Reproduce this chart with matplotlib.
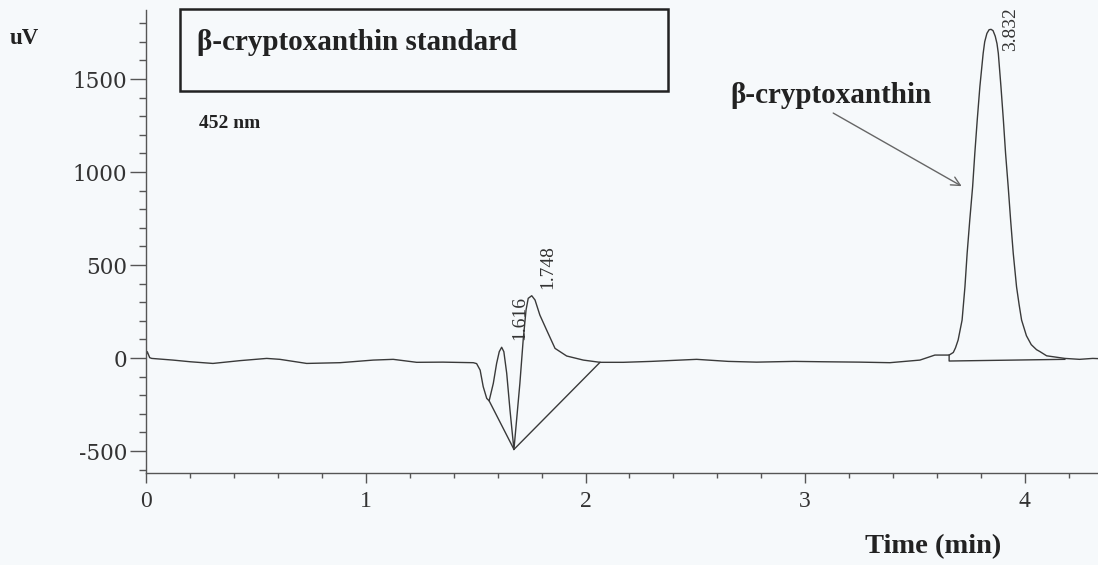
import matplotlib
matplotlib.use('Agg')
import matplotlib.pyplot as plt
from matplotlib.ticker import MultipleLocator
from matplotlib.patches import Rectangle

# ---------------- data ----------------
time_min = [0.000, 0.004, 0.015, 0.024, 0.121, 0.200, 0.303, 0.426, 0.548, 0.608,
            0.730, 0.882, 1.033, 1.124, 1.231, 1.350, 1.489, 1.504, 1.520, 1.534,
            1.550, 1.561, 1.580, 1.595, 1.607, 1.618, 1.628, 1.641, 1.656, 1.668,
            1.674, 1.686, 1.701, 1.716, 1.729, 1.739, 1.755, 1.770, 1.792, 1.823,
            1.861, 1.914, 1.990, 2.066, 2.172, 2.300, 2.506, 2.650, 2.779, 2.950,
            3.082, 3.250, 3.386, 3.523, 3.591, 3.656, 3.675, 3.685, 3.697, 3.715,
            3.728, 3.738, 3.750, 3.763, 3.773, 3.784, 3.796, 3.811, 3.818, 3.828,
            3.838, 3.847, 3.856, 3.866, 3.874, 3.880, 3.892, 3.903, 3.913, 3.925,
            3.936, 3.948, 3.963, 3.975, 3.986, 4.008, 4.030, 4.054, 4.069, 4.100,
            4.183, 4.250, 4.310, 4.334]
signal_uV = [20, 34, 2, -2, -11, -20, -29, -14, -2, -7,
             -29, -25, -11, -7, -23, -22, -25, -30, -65, -154,
             -217, -230, -136, -29, 34, 58, 34, -82, -280, -423,
             -491, -333, -136, 97, 258, 321, 335, 312, 231, 150,
             52, 11, -11, -23, -23, -18, -7, -18, -22, -18,
             -20, -22, -25, -11, 16, 16, 30, 55, 97, 204,
             383, 563, 742, 921, 1101, 1280, 1459, 1638, 1700, 1745,
             1765, 1767, 1760, 1730, 1690, 1638, 1459, 1280, 1101, 921,
             742, 563, 383, 285, 204, 120, 72, 45, 35, 12,
             -2, -7, -2, -3]

# integration baselines drawn by the data system
baseline_1_t = [1.561, 1.674]
baseline_1_v = [-230, -491]
baseline_2_t = [1.674, 2.066]
baseline_2_v = [-491, -23]
baseline_3_t = [3.656, 3.656, 4.183]
baseline_3_v = [16, -16, -7]

peak_labels = ['1.616', '1.748', '3.832']

x_ticks = [0, 1, 2, 3, 4]
y_ticks = [-500, 0, 500, 1000, 1500]

# ---------------- drawing ----------------
plt.rcParams['axes.unicode_minus'] = False
W, H = 1098, 565
fig = plt.figure(figsize=(W / 100, H / 100), dpi=100, facecolor='#f6f9fb')
ax = fig.add_axes([146.4 / W, 1 - 473 / H, 1 - 146.4 / W, (473 - 10) / H])
ax.set_facecolor('none')

line_col = '#3a3a3a'
ax.plot(time_min, signal_uV, color=line_col, lw=1.0)
for bt, bv in [(baseline_1_t, baseline_1_v), (baseline_2_t, baseline_2_v),
               (baseline_3_t, baseline_3_v)]:
    ax.plot(bt, bv, color=line_col, lw=1.0)

ax.set_xlim(0, 4.334)
ax.set_ylim(-618, 1871)
for s in ['top', 'right']:
    ax.spines[s].set_visible(False)
for s in ['left', 'bottom']:
    ax.spines[s].set_color('#555555')
    ax.spines[s].set_linewidth(1.0)

ax.set_xticks(x_ticks)
ax.set_xticklabels([str(v) for v in x_ticks])
ax.xaxis.set_minor_locator(MultipleLocator(0.2))
ax.set_yticks(y_ticks)
ax.set_yticklabels([str(v) for v in y_ticks])
ax.yaxis.set_minor_locator(MultipleLocator(100))

ax.tick_params(axis='x', which='major', length=7.2, width=1.0, color='#555555',
               pad=5.5, labelsize=17, labelcolor='#333333')
ax.tick_params(axis='x', which='minor', length=3.6, width=1.0, color='#555555')
ax.tick_params(axis='y', which='major', length=11.5, width=1.0, color='#555555',
               pad=2.4, labelsize=15.5, labelcolor='#333333')
ax.tick_params(axis='y', which='minor', length=5.0, width=1.0, color='#555555')
for lab in ax.get_xticklabels():
    lab.set_family('Liberation Serif')
for lab in ax.get_yticklabels():
    lab.set_family('DejaVu Serif')

# peak retention-time labels
label_xy = [(1.702, 95), (1.830, 372), (3.935, 1652)]
for txt, (lx, ly) in zip(peak_labels, label_xy):
    ax.text(lx, ly, txt, rotation=90, ha='center', va='bottom',
            family='Liberation Serif', size=14, color='#333333')

# annotation arrow
ax.annotate('', xy=(3.713, 924), xytext=(3.128, 1317),
            arrowprops=dict(arrowstyle='->', color='#666666', lw=1.0,
                            shrinkA=0, shrinkB=0, mutation_scale=16))

serif = 'Liberation Serif'
fig.text(730 / W, 1 - 103 / H, 'β-cryptoxanthin', family=serif, weight='bold',
         size=21, color='#222222', va='baseline', ha='left')
fig.add_artist(Rectangle((180 / W, 1 - 91 / H), 488 / W, 82 / H,
                         transform=fig.transFigure, fill=False, lw=1.8,
                         edgecolor='#222222'))
fig.text(197 / W, 1 - 50 / H, 'β-cryptoxanthin standard', family=serif,
         weight='bold', size=21, color='#222222', va='baseline', ha='left')
fig.text(199 / W, 1 - 128 / H, '452 nm', family=serif, weight='bold',
         size=14, color='#222222', va='baseline', ha='left')
fig.text(10 / W, 1 - 44 / H, 'uV', family=serif, weight='bold',
         size=16.5, color='#222222', va='baseline', ha='left')
fig.text(865 / W, 1 - 553 / H, 'Time (min)', family=serif, weight='bold',
         size=20.5, color='#222222', va='baseline', ha='left')

fig.savefig('out.png', dpi=100, facecolor=fig.get_facecolor())
